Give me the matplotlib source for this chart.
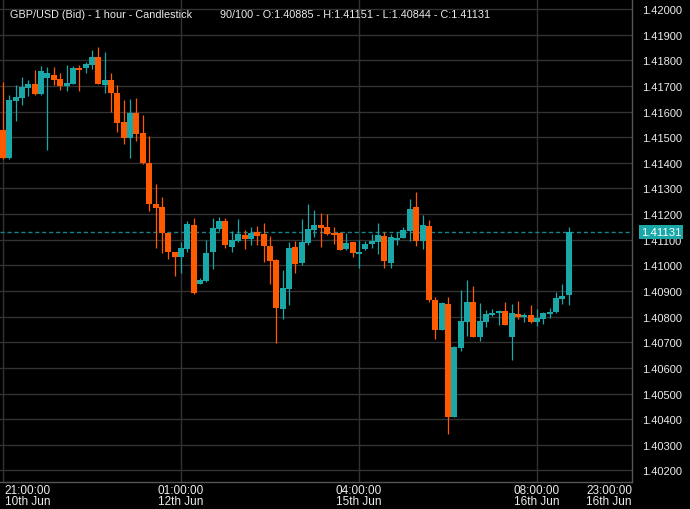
import numpy as np
import matplotlib
matplotlib.use('Agg')
from matplotlib import pyplot as plt
from matplotlib.patches import Rectangle
from matplotlib.ticker import MultipleLocator, FormatStrFormatter
from matplotlib.transforms import blended_transform_factory

plt.rcParams['font.family'] = ['Liberation Sans', 'DejaVu Sans']

# GBP/USD 1h candles (bid)
opens = [1.41528, 1.41419, 1.41641, 1.41653, 1.41692, 1.41708, 1.41669, 1.41731, 1.41743, 1.41727,
         1.41700, 1.41708, 1.41770, 1.41770, 1.41783, 1.41813, 1.41705, 1.41723, 1.41672, 1.41559,
         1.41498, 1.41594, 1.41516, 1.41399, 1.41240, 1.41228, 1.41126, 1.41052, 1.41034, 1.41064,
         1.41158, 1.40928, 1.40939, 1.41052, 1.41142, 1.41173, 1.41072, 1.41095, 1.41119, 1.41103,
         1.41130, 1.41122, 1.41076, 1.41021, 1.40830, 1.40908, 1.41072, 1.41009, 1.41087, 1.41138,
         1.41158, 1.41150, 1.41126, 1.41126, 1.41064, 1.41091, 1.41044, 1.41064, 1.41084, 1.41091,
         1.41115, 1.41009, 1.41099, 1.41107, 1.41134, 1.41228, 1.41095, 1.41154, 1.40865, 1.40748,
         1.40850, 1.40409, 1.40678, 1.40779, 1.40857, 1.40721, 1.40779, 1.40807, 1.40815, 1.40822,
         1.40721, 1.40811, 1.40799, 1.40807, 1.40779, 1.40791, 1.40811, 1.40818, 1.40869, 1.40885]
highs = [1.41715, 1.41665, 1.41704, 1.41736, 1.41724, 1.41762, 1.41778, 1.41774, 1.41774, 1.41752,
         1.41782, 1.41778, 1.41782, 1.41793, 1.41840, 1.41852, 1.41832, 1.41750, 1.41704, 1.41645,
         1.41649, 1.41653, 1.41587, 1.41505, 1.41318, 1.41267, 1.41128, 1.41053, 1.41091, 1.41173,
         1.41185, 1.40951, 1.41099, 1.41185, 1.41189, 1.41185, 1.41134, 1.41181, 1.41138, 1.41150,
         1.41154, 1.41165, 1.41115, 1.41025, 1.40982, 1.41091, 1.41095, 1.41181, 1.41240, 1.41216,
         1.41204, 1.41200, 1.41150, 1.41130, 1.41126, 1.41093, 1.41099, 1.41095, 1.41122, 1.41165,
         1.41130, 1.41122, 1.41130, 1.41150, 1.41259, 1.41286, 1.41197, 1.41177, 1.40877, 1.40857,
         1.40877, 1.40686, 1.40904, 1.40943, 1.40920, 1.40853, 1.40827, 1.40830, 1.40824, 1.40857,
         1.40850, 1.40861, 1.40815, 1.40846, 1.40830, 1.40818, 1.40834, 1.40896, 1.40928, 1.41151]
lows = [1.41415, 1.41415, 1.41564, 1.41627, 1.41660, 1.41666, 1.41665, 1.41450, 1.41704, 1.41684,
        1.41680, 1.41706, 1.41680, 1.41750, 1.41766, 1.41706, 1.41674, 1.41598, 1.41521, 1.41475,
        1.41420, 1.41486, 1.41397, 1.41213, 1.41069, 1.41050, 1.41026, 1.40960, 1.40972, 1.41054,
        1.40890, 1.40926, 1.40937, 1.40986, 1.41134, 1.41068, 1.41052, 1.41093, 1.41064, 1.41080,
        1.41080, 1.41013, 1.40928, 1.40697, 1.40791, 1.40846, 1.40970, 1.41002, 1.41080, 1.41111,
        1.41072, 1.41120, 1.41084, 1.41058, 1.41060, 1.41033, 1.40990, 1.41060, 1.41068, 1.41044,
        1.40990, 1.40990, 1.41080, 1.41105, 1.41095, 1.41076, 1.41064, 1.40857, 1.40713, 1.40746,
        1.40342, 1.40407, 1.40666, 1.40725, 1.40719, 1.40705, 1.40760, 1.40803, 1.40768, 1.40766,
        1.40631, 1.40791, 1.40779, 1.40777, 1.40764, 1.40772, 1.40795, 1.40816, 1.40850, 1.40844]
closes = [1.41419, 1.41645, 1.41657, 1.41697, 1.41708, 1.41669, 1.41758, 1.41750, 1.41723, 1.41700,
          1.41713, 1.41770, 1.41763, 1.41787, 1.41813, 1.41708, 1.41723, 1.41674, 1.41557, 1.41498,
          1.41594, 1.41514, 1.41401, 1.41241, 1.41225, 1.41125, 1.41054, 1.41034, 1.41068, 1.41162,
          1.40892, 1.40943, 1.41048, 1.41146, 1.41173, 1.41080, 1.41099, 1.41122, 1.41103, 1.41126,
          1.41115, 1.41076, 1.41017, 1.40834, 1.40912, 1.41068, 1.41005, 1.41091, 1.41142, 1.41158,
          1.41146, 1.41122, 1.41119, 1.41060, 1.41087, 1.41048, 1.41052, 1.41084, 1.41095, 1.41119,
          1.41017, 1.41111, 1.41107, 1.41138, 1.41220, 1.41095, 1.41158, 1.40865, 1.40748, 1.40853,
          1.40409, 1.40682, 1.40783, 1.40857, 1.40721, 1.40783, 1.40811, 1.40815, 1.40822, 1.40768,
          1.40815, 1.40799, 1.40807, 1.40779, 1.40795, 1.40815, 1.40818, 1.40873, 1.40881, 1.41131]

time_ticks = [0, 28, 56, 84]
time_labels = ['21:00:00\n10th Jun', '01:00:00\n12th Jun', '04:00:00\n15th Jun', '08:00:00\n16th Jun']
end_label = '23:00:00\n16th Jun'

title_left = 'GBP/USD (Bid) - 1 hour - Candlestick'
title_right = '90/100 - O:1.40885 - H:1.41151 - L:1.40844 - C:1.41131'

UP = '#19a7a7'
DOWN = '#ff5a00'
GRID = '#333333'
TXT = '#ececec'

o = np.array(opens)
h = np.array(highs)
l = np.array(lows)
c = np.array(closes)
idx = np.arange(len(o))
cols = np.where(c >= o, UP, DOWN)

fig = plt.figure(figsize=(6.9, 5.1), dpi=100, facecolor='black')
ax = fig.add_axes([0, 27 / 510, 632 / 690, 483 / 510], facecolor='black')

ax.vlines(idx, l, h, colors=cols, linewidth=0.9, zorder=3)
ax.bar(idx, np.maximum(np.abs(c - o), 0.00002), bottom=np.minimum(o, c),
       width=0.94, color=cols, linewidth=0, zorder=4)

ax.set_xlim(-0.47, 98.95)
ax.set_ylim(1.40155, 1.42039)

# last price line + tag on the price scale
last = closes[-1]
ax.axhline(last, color='#17808a', linestyle=(0, (3, 2)), linewidth=1.0, zorder=2)
tr = blended_transform_factory(ax.transAxes, ax.transData)
px = (1.42039 - 1.40155) / 483  # price per pixel
ax.add_patch(Rectangle((1.0 + 7 / 632, last - 7.4 * px), 44 / 632, 14.4 * px,
                       transform=tr, facecolor=UP, edgecolor='none',
                       clip_on=False, zorder=10))
ax.text(1.0 + 29 / 632, last, '%.5f' % last, transform=tr, color='white', fontsize=8.2,
        va='center', ha='center', zorder=11, clip_on=False)

ax.yaxis.tick_right()
ax.yaxis.set_major_locator(MultipleLocator(0.001))
ax.yaxis.set_major_formatter(FormatStrFormatter('%.5f'))
ax.tick_params(axis='y', length=0, pad=7, labelsize=8, labelcolor=TXT)
ax.set_xticks(time_ticks)
ax.tick_params(axis='x', length=0, labelbottom=False)
ax.grid(True, color=GRID, linewidth=1.0, zorder=0)
ax.set_axisbelow(True)

for s in ['left', 'top']:
    ax.spines[s].set_visible(False)
for s in ['right', 'bottom']:
    ax.spines[s].set_color('#555555')
    ax.spines[s].set_linewidth(1.0)

trx = blended_transform_factory(ax.transData, ax.transAxes)
for i, (t, lab) in enumerate(zip(time_ticks, time_labels)):
    ha = 'left' if i == 0 else 'center'
    xx = t + 0.25 if i == 0 else t
    ax.text(xx, -0.004, lab, transform=trx, ha=ha, va='top', fontsize=8.5,
            color=TXT, linespacing=0.95, multialignment=ha)
ax.text(1.0, -0.004, end_label, transform=ax.transAxes, ha='right', va='top',
        fontsize=8.5, color=TXT, linespacing=0.95, multialignment='right')

fig.text(10 / 690, 1 - 14.5 / 510, title_left, color=TXT, fontsize=7.8, va='center', ha='left')
fig.text(220 / 690, 1 - 14.5 / 510, title_right, color=TXT, fontsize=7.8, va='center', ha='left')

fig.savefig('out.png', dpi=100, facecolor='black')
